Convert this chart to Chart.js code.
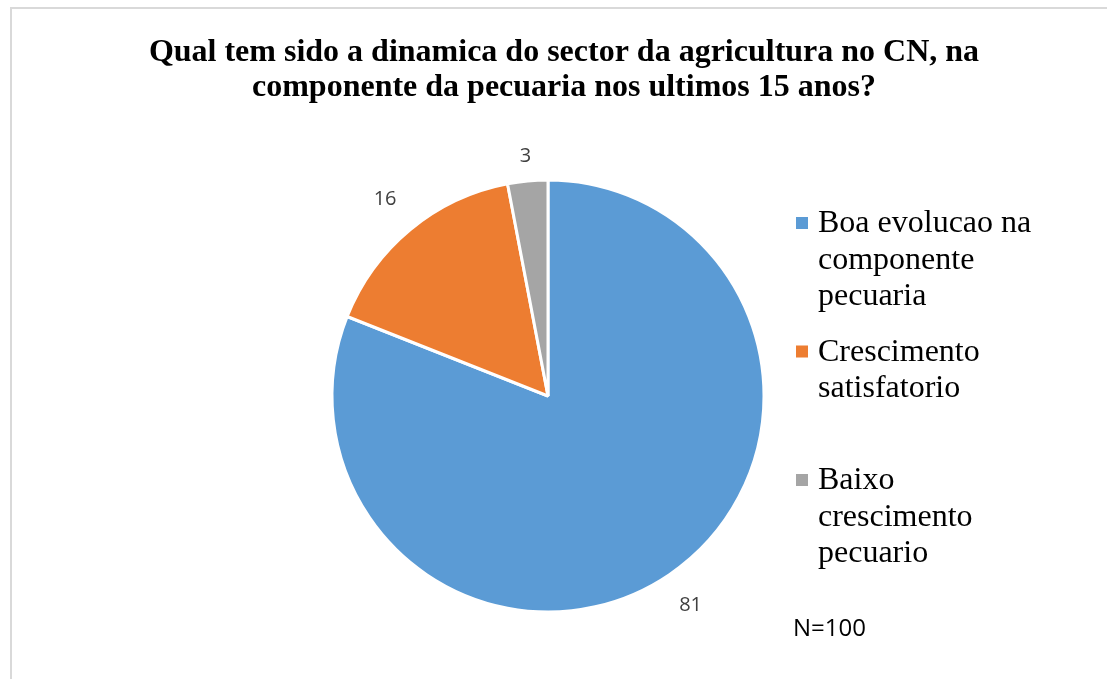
<!DOCTYPE html>
<html>
<head>
<meta charset="utf-8">
<script src="https://cdn.jsdelivr.net/npm/chart.js@4.4.0/dist/chart.umd.min.js"></script>
<style>
  html, body { margin: 0; padding: 0; background: #fff; }
  #frame { position: absolute; left: 10px; top: 7px; right: 0; bottom: 0;
           border-left: 2px solid #d9d9d9; border-top: 2px solid #d9d9d9; }
  #pie { position: absolute; left: 0; top: 0; }
</style>
</head>
<body>
<div id="frame"></div>
<canvas id="pie" width="1107" height="679"></canvas>
<script>
// data
var categories = [
  ['Boa evolucao na', 'componente', 'pecuaria'],
  ['Crescimento', 'satisfatorio'],
  ['Baixo', 'crescimento', 'pecuario']
];
var values = [81, 16, 3];
var colors = ['#5B9BD5', '#ED7D31', '#A5A5A5'];
var titleLines = ['Qual tem sido a dinamica do sector da agricultura no CN, na',
                  'componente da pecuaria nos ultimos 15 anos?'];
var note = 'N=100';

var SERIF = '"Liberation Serif", "Times New Roman", serif';
var SANS = '"Open Sans", "Liberation Sans", sans-serif';

// title drawn by hand so it can sit off-centre like the original
var titleDraw = {
  id: 'titleDraw',
  afterDraw: function(chart) {
    var ctx = chart.ctx;
    ctx.save();
    ctx.font = 'bold 32px ' + SERIF;
    ctx.fillStyle = '#000';
    ctx.textAlign = 'center';
    ctx.textBaseline = 'middle';
    titleLines.forEach(function(t, i) {
      ctx.fillText(t, 564, 53 + i * 35);
    });
    ctx.restore();
  }
};

// labels outside the slices
var outsideLabels = {
  id: 'outsideLabels',
  afterDatasetsDraw: function(chart) {
    var ctx = chart.ctx;
    var meta = chart.getDatasetMeta(0);
    ctx.save();
    ctx.font = '20px ' + SANS;
    ctx.fillStyle = '#404040';
    ctx.textAlign = 'center';
    ctx.textBaseline = 'middle';
    meta.data.forEach(function(arc, i) {
      var a = (arc.startAngle + arc.endAngle) / 2;
      var txt = String(chart.data.datasets[0].data[i]);
      var hw = ctx.measureText(txt).width / 2;
      var d = arc.outerRadius + 23.5 + Math.abs(Math.cos(a)) * hw * 2.2;
      ctx.fillText(txt, arc.x + Math.cos(a) * d, arc.y + Math.sin(a) * d);
    });
    ctx.restore();
  }
};

// legend on the right, wrapped like the original
var sideLegend = {
  id: 'sideLegend',
  afterDraw: function(chart) {
    var ctx = chart.ctx;
    ctx.save();
    ctx.font = '32px ' + SERIF;
    ctx.textBaseline = 'middle';
    ctx.textAlign = 'left';
    categories.forEach(function(lines, i) {
      var y0 = 223 + i * 128.5;
      ctx.fillStyle = colors[i];
      ctx.fillRect(796, y0 - 6, 12, 12);
      ctx.fillStyle = '#000';
      lines.forEach(function(t, j) {
        ctx.fillText(t, 818, y0 + 1 + j * 36.5);
      });
    });
    ctx.font = '24px ' + SANS;
    ctx.fillText(note, 793, 629);
    ctx.restore();
  }
};

function draw() {
  new Chart(document.getElementById('pie'), {
    type: 'pie',
    data: {
      labels: categories.map(function(l) { return l.join(' '); }),
      datasets: [{
        data: values,
        backgroundColor: colors,
        borderColor: '#ffffff',
        borderWidth: 3,
        radius: 216
      }]
    },
    options: {
      responsive: false,
      animation: false,
      devicePixelRatio: 1,
      layout: { padding: { left: 0, right: 11, top: 180, bottom: 67 } },
      plugins: {
        legend: { display: false },
        tooltip: { enabled: false },
        title: { display: false }
      }
    },
    plugins: [outsideLabels, sideLegend, titleDraw]
  });
}

Promise.all([
  document.fonts.load('32px "Liberation Serif"'),
  document.fonts.load('bold 32px "Liberation Serif"'),
  document.fonts.load('20px "Open Sans"')
]).then(draw, draw);
</script>
</body>
</html>
